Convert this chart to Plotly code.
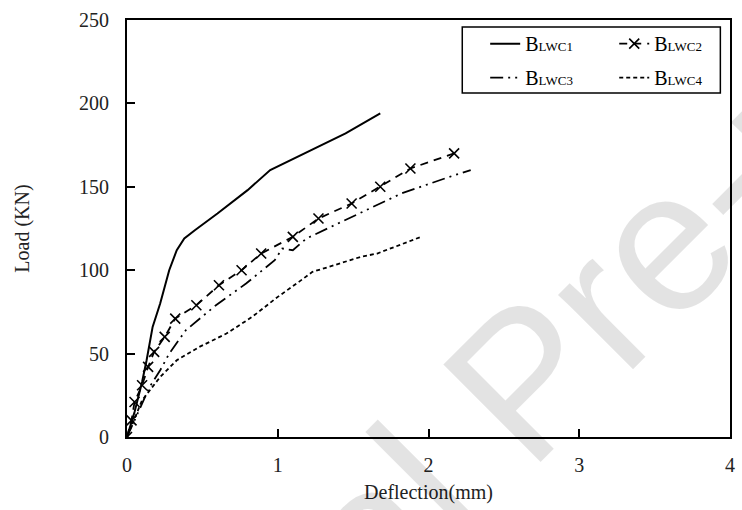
import plotly.graph_objects as go

# ---- data ----
x_b1 = [0, 0.05, 0.10, 0.13, 0.17, 0.22, 0.28, 0.33, 0.38, 0.45, 0.60, 0.80, 0.95, 1.20, 1.45, 1.68]
y_b1 = [0, 15, 33, 46, 66, 80, 100, 112, 119, 124, 134, 148, 160, 171, 182, 194]

x_b2 = [0, 0.03, 0.05, 0.10, 0.14, 0.18, 0.25, 0.32, 0.46, 0.61, 0.76, 0.89, 1.10, 1.27, 1.49, 1.68, 1.88, 2.17]
y_b2 = [0, 10, 21, 31, 42, 51, 60, 71, 79, 91, 100, 110, 120, 131, 140, 150, 161, 170]

x_b3 = [0, 0.05, 0.10, 0.15, 0.22, 0.28, 0.39, 0.59, 0.79, 0.98, 1.03, 1.10, 1.19, 1.45, 1.82, 2.14, 2.28]
y_b3 = [0, 10, 20, 30, 40, 50, 64, 79, 92, 106, 113, 112, 119, 130, 146, 156, 160]

x_b4 = [0, 0.05, 0.10, 0.22, 0.33, 0.48, 0.66, 0.83, 1.00, 1.14, 1.23, 1.34, 1.55, 1.66, 1.95]
y_b4 = [0, 11, 22, 36, 46, 54, 62, 72, 84, 93, 99, 102, 108, 110, 120]

x_ticks = [0, 1, 2, 3, 4]
y_ticks = [0, 50, 100, 150, 200, 250]

names = ["B<span style='font-size:13px'>LWC1</span>",
         "B<span style='font-size:13px'>LWC2</span>",
         "B<span style='font-size:13px'>LWC3</span>",
         "B<span style='font-size:13px'>LWC4</span>"]

watermark = "Journal Pre-proof"

SERIF = "Liberation Serif"
FS = 20

fig = go.Figure()
fig.add_trace(go.Scatter(x=x_b1, y=y_b1, mode="lines", name=names[0], legendgroup="a",
                         line=dict(color="black", width=2), legend="legend"))
fig.add_trace(go.Scatter(x=x_b2, y=y_b2, mode="lines+markers", name=names[1], legendgroup="b",
                         line=dict(color="black", width=1.8, dash="8px,6px"),
                         marker=dict(symbol="x-thin-open", size=10, color="black",
                                     line=dict(width=1.6, color="black")),
                         legend="legend2"))
fig.add_trace(go.Scatter(x=x_b3, y=y_b3, mode="lines", name=names[2], legendgroup="c",
                         line=dict(color="black", width=1.8, dash="13px,5px,2px,5px,2px,5px"),
                         legend="legend"))
fig.add_trace(go.Scatter(x=x_b4, y=y_b4, mode="lines", name=names[3], legendgroup="d",
                         line=dict(color="black", width=1.8, dash="4px,3px"),
                         legend="legend2"))

axis_common = dict(showgrid=False, zeroline=False, showline=True, linecolor="black",
                   linewidth=2, mirror=True, ticks="inside", ticklen=8, tickwidth=1.5,
                   tickcolor="black",
                   tickfont=dict(family=SERIF, size=FS, color="#222"))

fig.update_xaxes(range=[0, 4], tickvals=x_ticks, ticklabelstandoff=9,
                 title=dict(text="Deflection(mm)", font=dict(family=SERIF, size=FS, color="#222"),
                            standoff=10),
                 **axis_common)
fig.update_yaxes(range=[0, 250], tickvals=y_ticks, ticklabelstandoff=12,
                 title=dict(text="Load (KN)", font=dict(family=SERIF, size=FS, color="#222"),
                            standoff=44),
                 **axis_common)

leg_common = dict(orientation="v", yanchor="top", xanchor="left", bgcolor="rgba(0,0,0,0)",
                  borderwidth=0, font=dict(family=SERIF, size=FS, color="black"),
                  tracegroupgap=5, itemwidth=30)
fig.update_layout(
    width=742, height=510,
    margin=dict(l=127, r=7, t=20, b=73),
    paper_bgcolor="white", plot_bgcolor="white",
    legend=dict(x=0.594, y=0.99, **leg_common),
    legend2=dict(x=0.808, y=0.99, **leg_common),
    shapes=[dict(type="rect", xref="paper", yref="paper", x0=0.556, x1=0.984,
                 y0=0.825, y1=0.983, line=dict(color="black", width=1.5))],
    annotations=[dict(text=watermark, xref="x", yref="y",
                      x=2.63, y=34, showarrow=False, textangle=-45,
                      font=dict(family="Liberation Sans", size=200, color="rgba(0,0,0,0.11)"))],
)

fig.write_html("out.html")
